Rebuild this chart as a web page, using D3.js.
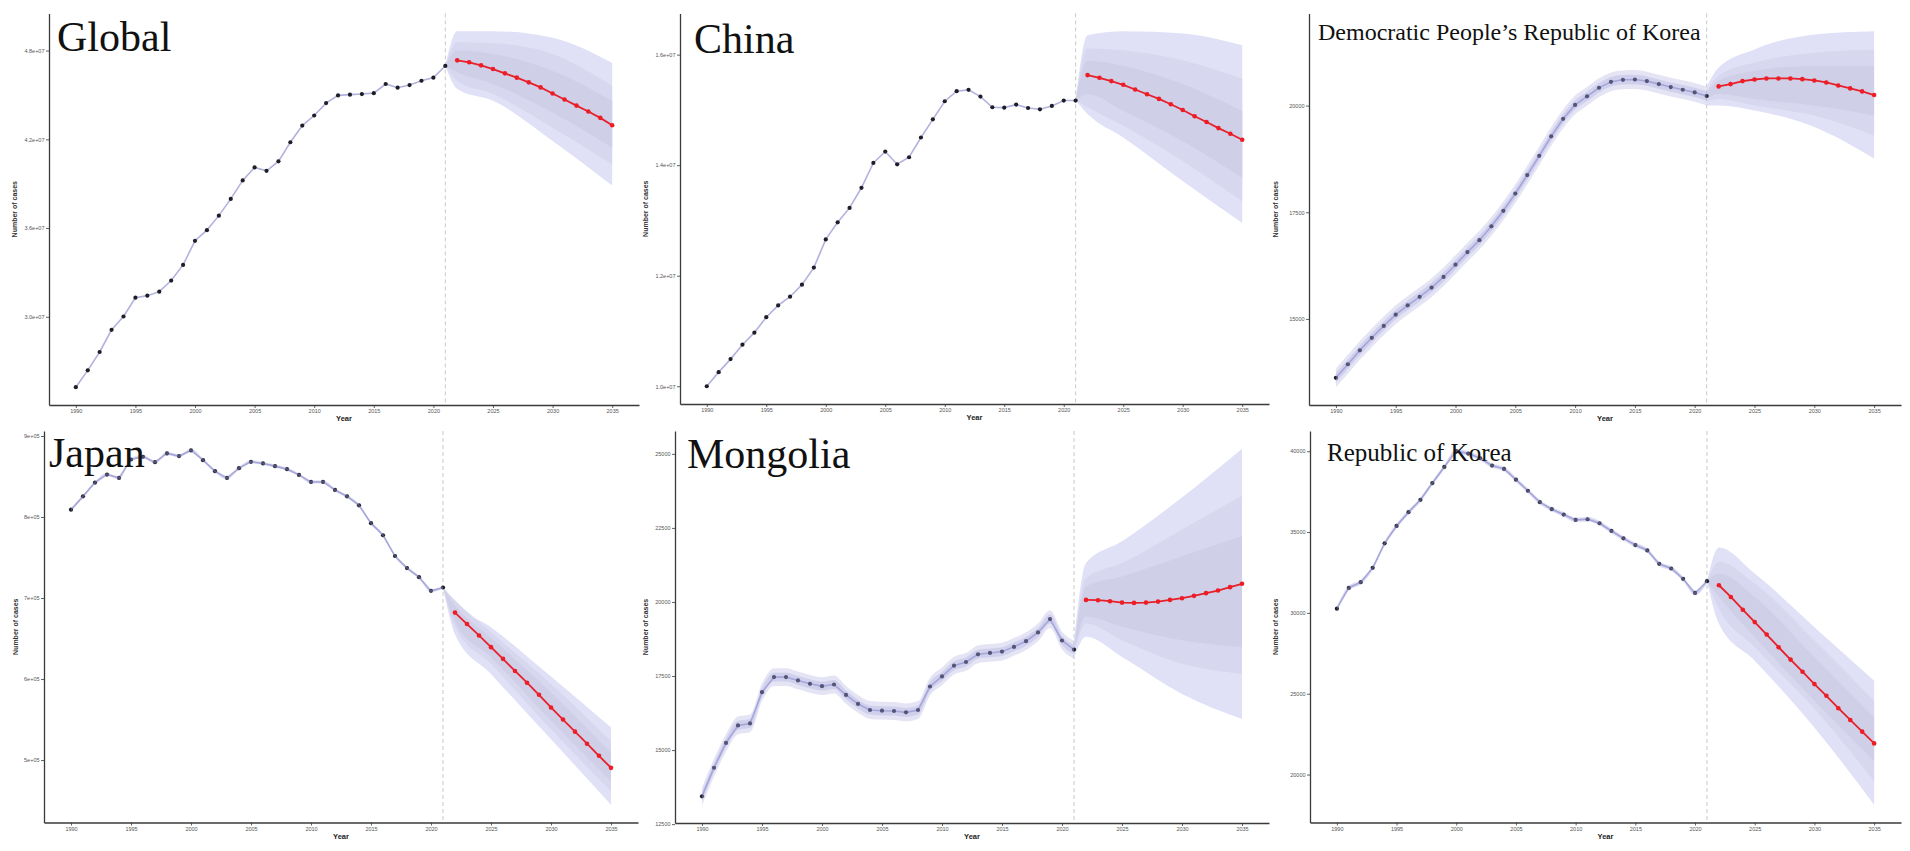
<!DOCTYPE html>
<html><head><meta charset="utf-8">
<script src="https://cdn.jsdelivr.net/npm/d3@7"></script>
<style>html,body{margin:0;padding:0;background:#fff;}svg{display:block;}</style>
</head><body>
<svg id="c" width="1910" height="851"></svg>
<script>
// ---------- categories ----------
const obsYears = [1990,1991,1992,1993,1994,1995,1996,1997,1998,1999,2000,2001,2002,2003,2004,2005,2006,2007,2008,2009,2010,2011,2012,2013,2014,2015,2016,2017,2018,2019,2020,2021];
const predYears = [2022,2023,2024,2025,2026,2027,2028,2029,2030,2031,2032,2033,2034,2035];
const bandYears = [2021,2022,2025,2030,2035];
const xTickValues = [1990,1995,2000,2005,2010,2015,2020,2025,2030,2035];
const xTickLabels = ["1990","1995","2000","2005","2010","2015","2020","2025","2030","2035"];
const panelNames = ["Global","China","Democratic People\u2019s Republic of Korea","Japan","Mongolia","Republic of Korea"];

// ---------- Global ----------
const globalObs = [2.524e7,2.638e7,2.762e7,2.912e7,3.002e7,3.129e7,3.143e7,3.170e7,3.245e7,3.351e7,3.514e7,3.586e7,3.684e7,3.797e7,3.922e7,4.010e7,3.987e7,4.051e7,4.180e7,4.293e7,4.361e7,4.445e7,4.497e7,4.502e7,4.506e7,4.512e7,4.574e7,4.549e7,4.567e7,4.596e7,4.617e7,4.696e7];
const globalPred = [4.734e7,4.721e7,4.700e7,4.675e7,4.646e7,4.617e7,4.585e7,4.551e7,4.510e7,4.469e7,4.428e7,4.388e7,4.345e7,4.295e7];
const globalOuterHi = [4.696e7,4.931e7,4.931e7,4.886e7,4.716e7];
const globalOuterLo = [4.696e7,4.540e7,4.460e7,4.189e7,3.888e7];
const globalMidHi = [4.696e7,4.857e7,4.850e7,4.777e7,4.562e7];
const globalMidLo = [4.696e7,4.596e7,4.506e7,4.279e7,4.030e7];
const globalInnerHi = [4.696e7,4.800e7,4.777e7,4.664e7,4.460e7];
const globalInnerLo = [4.696e7,4.653e7,4.574e7,4.381e7,4.143e7];
const globalSpread = 0;
const globalYTicks = [3.0e7,3.6e7,4.2e7,4.8e7];
const globalYLabels = ["3.0e+07","3.6e+07","4.2e+07","4.8e+07"];

// ---------- China ----------
const chinaObs = [1.0000e7,1.0255e7,1.0491e7,1.0752e7,1.0970e7,1.1250e7,1.1462e7,1.1620e7,1.1838e7,1.2147e7,1.2657e7,1.2966e7,1.3227e7,1.3591e7,1.4040e7,1.4247e7,1.4016e7,1.4143e7,1.4501e7,1.4829e7,1.5157e7,1.5339e7,1.5363e7,1.5242e7,1.5048e7,1.5041e7,1.5096e7,1.5035e7,1.5011e7,1.5072e7,1.5169e7,1.5169e7];
const chinaPred = [1.5630e7,1.5581e7,1.5521e7,1.5454e7,1.5369e7,1.5284e7,1.5199e7,1.5102e7,1.4999e7,1.4884e7,1.4781e7,1.4671e7,1.4568e7,1.4459e7];
const chinaOuterHi = [1.5169e7,1.6352e7,1.6425e7,1.6382e7,1.6170e7];
const chinaOuterLo = [1.5169e7,1.4926e7,1.4502e7,1.3714e7,1.2954e7];
const chinaMidHi = [1.5169e7,1.6109e7,1.6079e7,1.5897e7,1.5563e7];
const chinaMidLo = [1.5169e7,1.5047e7,1.4714e7,1.4077e7,1.3349e7];
const chinaInnerHi = [1.5169e7,1.5891e7,1.5800e7,1.5467e7,1.4980e7];
const chinaInnerLo = [1.5169e7,1.5284e7,1.4980e7,1.4434e7,1.3774e7];
const chinaSpread = 0;
const chinaYTicks = [1.0e7,1.2e7,1.4e7,1.6e7];
const chinaYLabels = ["1.0e+07","1.2e+07","1.4e+07","1.6e+07"];

// ---------- DPRK ----------
const dprkObs = [13620,13938,14264,14558,14837,15101,15318,15519,15736,15984,16271,16566,16845,17171,17535,17938,18372,18822,19279,19690,20016,20217,20419,20558,20605,20612,20574,20504,20434,20372,20310,20225];
const dprkPred = [20450,20504,20574,20612,20636,20636,20636,20620,20589,20543,20473,20403,20333,20248];
const dprkOuterHi = [20450,20891,21318,21667,21744];
const dprkOuterLo = [20000,20000,19884,19496,18760];
const dprkMidHi = [20350,20698,21008,21240,21318];
const dprkMidLo = [20100,20155,20000,19767,19302];
const dprkInnerHi = [20300,20581,20814,20930,20930];
const dprkInnerLo = [20150,20271,20155,20000,19767];
const dprkSpread = 220;
const dprkYTicks = [15000,17500,20000];
const dprkYLabels = ["15000","17500","20000"];

// ---------- Japan ----------
const japanObs = [8.090e5,8.255e5,8.425e5,8.524e5,8.483e5,8.710e5,8.744e5,8.677e5,8.785e5,8.752e5,8.822e5,8.702e5,8.566e5,8.483e5,8.603e5,8.681e5,8.661e5,8.628e5,8.590e5,8.520e5,8.433e5,8.433e5,8.334e5,8.255e5,8.144e5,7.924e5,7.775e5,7.519e5,7.370e5,7.258e5,7.089e5,7.130e5];
const japanPred = [6.820e5,6.679e5,6.538e5,6.394e5,6.249e5,6.100e5,5.955e5,5.806e5,5.649e5,5.500e5,5.351e5,5.202e5,5.053e5,4.904e5];
const japanOuterHi = [7.130e5,6.935e5,6.638e5,6.030e5,5.401e5];
const japanOuterLo = [7.130e5,6.551e5,6.063e5,5.256e5,4.449e5];
const japanMidHi = [7.130e5,6.973e5,6.580e5,5.939e5,5.235e5];
const japanMidLo = [7.130e5,6.642e5,6.187e5,5.380e5,4.615e5];
const japanInnerHi = [7.130e5,6.911e5,6.510e5,5.835e5,5.091e5];
const japanInnerLo = [7.130e5,6.704e5,6.270e5,5.484e5,4.739e5];
const japanSpread = 2000;
const japanYTicks = [5e5,6e5,7e5,8e5,9e5];
const japanYLabels = ["5e+05","6e+05","7e+05","8e+05","9e+05"];

// ---------- Mongolia ----------
const mongoliaObs = [13440,14404,15242,15832,15900,16954,17464,17464,17350,17237,17158,17214,16863,16557,16353,16330,16319,16274,16353,17146,17486,17849,17974,18234,18280,18325,18484,18676,18971,19424,18699,18393];
const mongoliaPred = [20070,20059,20025,19979,19968,19979,20013,20070,20127,20206,20297,20387,20501,20614];
const mongoliaOuterHi = [18690,21317,22053,23527,25170];
const mongoliaOuterLo = [18100,18824,18144,16897,16047];
const mongoliaMidHi = [18550,20807,21317,22450,23584];
const mongoliaMidLo = [18240,19277,18710,17917,17577];
const mongoliaInnerHi = [18470,20523,20863,21543,22223];
const mongoliaInnerLo = [18320,19503,19163,18710,18484];
const mongoliaSpread = 300;
const mongoliaYTicks = [12500,15000,17500,20000,22500,25000];
const mongoliaYLabels = ["12500","15000","17500","20000","22500","25000"];

// ---------- Republic of Korea ----------
const rokObs = [30259,31544,31897,32788,34301,35378,36228,36995,38031,39026,40000,39855,39565,39109,38902,38238,37554,36850,36415,36083,35751,35793,35544,35067,34611,34197,33865,33036,32746,32104,31233,31959];
const rokPred = [31710,30985,30197,29430,28663,27876,27109,26363,25596,24871,24104,23379,22653,21928];
const rokOuterHi = [31959,34052,32435,29119,25803];
const rokOuterLo = [31959,29327,27047,22902,18135];
const rokMidHi = [31959,33161,31814,28290,24559];
const rokMidLo = [31959,30259,27876,24073,19586];
const rokInnerHi = [31959,32435,30985,27254,23524];
const rokInnerLo = [31959,30985,28498,24559,20829];
const rokSpread = 150;
const rokYTicks = [20000,25000,30000,35000,40000];
const rokYLabels = ["20000","25000","30000","35000","40000"];

// ---------- assemble ----------
const panels = [
  {obs:globalObs, pred:globalPred, bands:[[globalOuterLo,globalOuterHi],[globalMidLo,globalMidHi],[globalInnerLo,globalInnerHi]], spread:globalSpread, yt:globalYTicks, yl:globalYLabels},
  {obs:chinaObs, pred:chinaPred, bands:[[chinaOuterLo,chinaOuterHi],[chinaMidLo,chinaMidHi],[chinaInnerLo,chinaInnerHi]], spread:chinaSpread, yt:chinaYTicks, yl:chinaYLabels},
  {obs:dprkObs, pred:dprkPred, bands:[[dprkOuterLo,dprkOuterHi],[dprkMidLo,dprkMidHi],[dprkInnerLo,dprkInnerHi]], spread:dprkSpread, yt:dprkYTicks, yl:dprkYLabels},
  {obs:japanObs, pred:japanPred, bands:[[japanOuterLo,japanOuterHi],[japanMidLo,japanMidHi],[japanInnerLo,japanInnerHi]], spread:japanSpread, yt:japanYTicks, yl:japanYLabels},
  {obs:mongoliaObs, pred:mongoliaPred, bands:[[mongoliaOuterLo,mongoliaOuterHi],[mongoliaMidLo,mongoliaMidHi],[mongoliaInnerLo,mongoliaInnerHi]], spread:mongoliaSpread, yt:mongoliaYTicks, yl:mongoliaYLabels},
  {obs:rokObs, pred:rokPred, bands:[[rokOuterLo,rokOuterHi],[rokMidLo,rokMidHi],[rokInnerLo,rokInnerHi]], spread:rokSpread, yt:rokYTicks, yl:rokYLabels}
];

// ---------- layout ----------
const layouts = [
  {left:49,  right:639,  top:13.4, bottom:405,   tx:57,   ty:51,  ts:42, yTitleX:15},
  {left:680, right:1269, top:13.4, bottom:404,   tx:694,  ty:53,  ts:42, yTitleX:646},
  {left:1309,right:1901, top:13.4, bottom:405,   tx:1318, ty:40,  ts:24, yTitleX:1276},
  {left:44,  right:638,  top:431,  bottom:822.5, tx:49,   ty:467, ts:42, yTitleX:16},
  {left:675, right:1269, top:431,  bottom:823,   tx:687,  ty:468, ts:42, yTitleX:646},
  {left:1310,right:1901, top:431,  bottom:822.5, tx:1327, ty:461, ts:25, yTitleX:1276}
];
const bandFills = ["#e0e0f7","#d7d7ef","#cfcfe8"];
const svg = d3.select("#c");

panels.forEach((p, i) => {
  const L = layouts[i];
  const x = d3.scaleLinear().domain([1990 - 2.25, 2035 + 2.25]).range([L.left, L.right]);
  const allVals = p.obs.map(v => v + p.spread).concat(p.obs.map(v => v - p.spread), p.pred, p.bands.flat(2));
  const [mn, mx] = d3.extent(allVals);
  const pad = (mx - mn) * 0.05;
  const y = d3.scaleLinear().domain([mn - pad, mx + pad]).range([L.bottom, L.top]);
  const g = svg.append("g");

  // dashed vertical at last observed year
  g.append("line")
    .attr("x1", x(2021)).attr("x2", x(2021))
    .attr("y1", L.top).attr("y2", L.bottom)
    .attr("stroke", "#c8c8c8").attr("stroke-width", 1).attr("stroke-dasharray", "4,3");

  // forecast bands
  const area = d3.area().x(d => x(d.yr)).y0(d => y(d.lo)).y1(d => y(d.hi)).curve(d3.curveMonotoneX);
  p.bands.forEach((b, k) => {
    const rows = bandYears.map((yr, j) => ({yr, lo: b[0][j], hi: b[1][j]}));
    g.append("path").datum(rows).attr("d", area).attr("fill", bandFills[k]);
  });

  const obsRows = obsYears.map((yr, j) => ({yr, v: p.obs[j]}));
  // observed line
  g.append("path").datum(obsRows)
    .attr("d", d3.line().x(d => x(d.yr)).y(d => y(d.v)))
    .attr("fill", "none").attr("stroke", "#b2b2de").attr("stroke-width", 1.6);
  // observed points
  g.selectAll(null).data(obsRows).join("circle")
    .attr("cx", d => x(d.yr)).attr("cy", d => y(d.v)).attr("r", 2.1).attr("fill", "#1e1e28");
  // observed band (translucent, over points)
  if (p.spread > 0) {
    const oa = d3.area().x(d => x(d.yr)).curve(d3.curveMonotoneX);
    [1, 0.5].forEach(f => {
      g.append("path").datum(obsRows)
        .attr("d", oa.y0(d => y(d.v - p.spread * f)).y1(d => y(d.v + p.spread * f)))
        .attr("fill", "rgba(150,150,215,0.26)");
    });
  }

  // forecast line + points
  const predRows = predYears.map((yr, j) => ({yr, v: p.pred[j]}));
  g.append("path").datum(predRows)
    .attr("d", d3.line().x(d => x(d.yr)).y(d => y(d.v)))
    .attr("fill", "none").attr("stroke", "#e8202a").attr("stroke-width", 1.8);
  g.selectAll(null).data(predRows).join("circle")
    .attr("cx", d => x(d.yr)).attr("cy", d => y(d.v)).attr("r", 2.3).attr("fill", "#ee1c25");

  // axes
  const xa = g.append("g").attr("transform", `translate(0,${L.bottom})`)
    .call(d3.axisBottom(x).tickValues(xTickValues).tickFormat((d, j) => xTickLabels[j]).tickSize(3).tickSizeOuter(0).tickPadding(1.5));
  const ya = g.append("g").attr("transform", `translate(${L.left},0)`)
    .call(d3.axisLeft(y).tickValues(p.yt).tickFormat((d, j) => p.yl[j]).tickSize(3).tickSizeOuter(0).tickPadding(1.5));
  [xa, ya].forEach(a => {
    a.select(".domain").attr("stroke", "#3a3a3a").attr("stroke-width", 1.3);
    a.selectAll(".tick line").attr("stroke", "#3a3a3a").attr("stroke-width", 0.8);
    a.selectAll(".tick text").attr("fill", "#555").attr("font-size", "5.5px").attr("font-family", "Liberation Sans, Arial, sans-serif");
  });

  // axis titles
  g.append("text").attr("x", (L.left + L.right) / 2).attr("y", L.bottom + 16)
    .attr("text-anchor", "middle").attr("font-family", "Liberation Sans, Arial, sans-serif")
    .attr("font-size", "7.5px").attr("font-weight", "bold").attr("fill", "#222").text("Year");
  g.append("text").attr("transform", `translate(${L.yTitleX},${(L.top + L.bottom) / 2}) rotate(-90)`)
    .attr("text-anchor", "middle").attr("dy", "0.35em").attr("font-family", "Liberation Sans, Arial, sans-serif")
    .attr("font-size", "7px").attr("font-weight", "600").attr("fill", "#333").text("Number of cases");

  // panel title
  g.append("text").attr("x", L.tx).attr("y", L.ty)
    .attr("font-family", "Liberation Serif, Times New Roman, serif")
    .attr("font-size", L.ts + "px").attr("fill", "#111").text(panelNames[i]);
});
</script>
</body></html>
